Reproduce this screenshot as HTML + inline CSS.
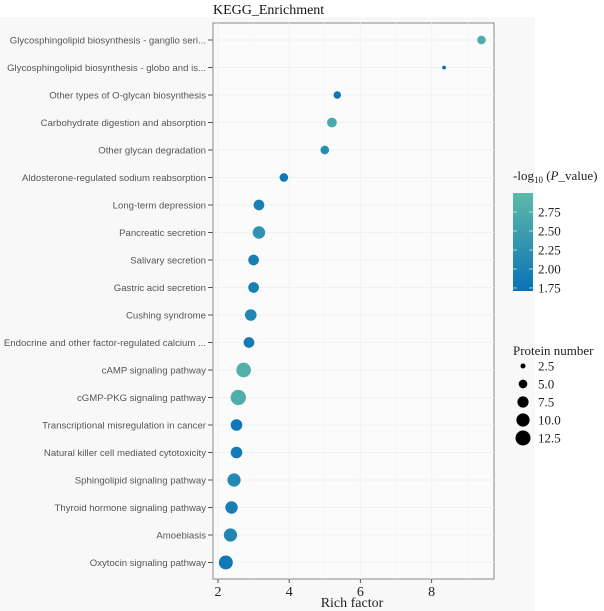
<!DOCTYPE html>
<html><head><meta charset="utf-8"><style>
html,body{margin:0;padding:0;background:#fff;}
svg{display:block;}
</style></head><body>
<svg id="chart" width="604" height="611" xmlns="http://www.w3.org/2000/svg">
<rect x="0" y="17" width="535" height="594" fill="#f8f8f8"/>
<text x="213" y="14" font-family="Liberation Serif, serif" font-size="14" fill="#111">KEGG_Enrichment</text>
<rect x="213" y="23" width="281" height="556" fill="#fbfbfb" stroke="#8a8a8a" stroke-width="1"/>
<g id="grid"></g><g id="yaxis"></g><g id="xaxis"></g><g id="points"></g>
<text x="352" y="607" text-anchor="middle" font-family="Liberation Serif, serif" font-size="14" fill="#222">Rich factor</text>
<defs><linearGradient id="cg" x1="0" y1="1" x2="0" y2="0"><stop offset="0" stop-color="#0b72b6"/><stop offset="1" stop-color="#5cbaa9"/></linearGradient></defs>
<text x="513" y="180" font-family="Liberation Serif, serif" font-size="13" fill="#222">-log<tspan font-size="9" dy="3">10</tspan><tspan dy="-3"> (</tspan><tspan font-style="italic">P</tspan>_value)</text>
<rect x="513" y="193" width="20" height="98" fill="url(#cg)"/>
<g id="cleg"></g>
<text x="513" y="355" font-family="Liberation Serif, serif" font-size="13" fill="#222">Protein number</text>
<g id="sleg"></g>
</svg>
<script>
const categories=["Glycosphingolipid biosynthesis - ganglio seri...","Glycosphingolipid biosynthesis - globo and is...","Other types of O-glycan biosynthesis","Carbohydrate digestion and absorption","Other glycan degradation","Aldosterone-regulated sodium reabsorption","Long-term depression","Pancreatic secretion","Salivary secretion","Gastric acid secretion","Cushing syndrome","Endocrine and other factor-regulated calcium ...","cAMP signaling pathway","cGMP-PKG signaling pathway","Transcriptional misregulation in cancer","Natural killer cell mediated cytotoxicity","Sphingolipid signaling pathway","Thyroid hormone signaling pathway","Amoebiasis","Oxytocin signaling pathway"];
const richFactor=[9.4,8.35,5.35,5.2,5.0,3.85,3.15,3.15,3.0,3.0,2.92,2.87,2.72,2.57,2.52,2.52,2.45,2.38,2.35,2.22];
const proteinNumber=[5,2,4,6,5,5,7,9,7,7,8,7,12,13,8,8,10,9,10,11];
const logP=[2.8,1.8,1.8,2.7,2.2,1.85,2.0,2.3,1.95,1.95,2.1,1.9,2.85,2.8,1.85,1.9,2.15,1.95,2.1,1.85];
const xTicks=[2,4,6,8];
const colorTicks=[1.75,2.0,2.25,2.5,2.75];
const sizeTicks=[2.5,5.0,7.5,10.0,12.5];
const NS="http://www.w3.org/2000/svg";
const X=v=>218+(v-2)*35.6;
const Y=i=>40+i*27.5;
const R=n=>Math.sqrt(Math.max(5*n-6.25,2.5));
const CY=v=>288-(v-1.75)*76;
function col(v){let t=Math.max(0,Math.min(1,(v-1.75)/1.25));const a=[11,114,182],b=[92,186,169];return `rgb(${a.map((c,k)=>Math.round(c+(b[k]-c)*t)).join(',')})`;}
function mk(tag,attrs,parent,txt){const e=document.createElementNS(NS,tag);for(const k in attrs)e.setAttribute(k,attrs[k]);if(txt!==undefined)e.textContent=txt;document.getElementById(parent).appendChild(e);return e;}
xTicks.forEach(t=>{
 let g=mk('line',{x1:X(t),x2:X(t),y1:23,y2:579,stroke:'#f1f1f1','stroke-width':1},'grid');
 
 
 let g2=mk('line',{x1:X(t+1),x2:X(t+1),y1:23,y2:579,stroke:'#f5f5f5','stroke-width':0.6},'grid');
 
 
 let tk=mk('line',{x1:X(t),x2:X(t),y1:579,y2:583,stroke:'#555'},'xaxis');
 
 
 let lb=mk('text',{x:X(t),y:596,'text-anchor':'middle','font-family':'Liberation Serif, serif','font-size':14,fill:'#222'},'xaxis',String(t));
 
 
});
categories.forEach((c,i)=>{
 let g=mk('line',{x1:213,x2:494,y1:Y(i),y2:Y(i),stroke:'#f1f1f1','stroke-width':1},'grid');
 
 
 let tk=mk('line',{x1:208,x2:213,y1:Y(i),y2:Y(i),stroke:'#555'},'yaxis');
 
 
 let lb=mk('text',{x:206,y:Y(i)+3.5,'text-anchor':'end','font-family':'Liberation Sans, sans-serif','font-size':9.6,fill:'#555'},'yaxis',c);
 
 
 let p=mk('circle',{cx:X(richFactor[i]),cy:Y(i),r:R(proteinNumber[i]),fill:col(logP[i])},'points');
 
 
});
colorTicks.forEach(t=>{
 let l=mk('line',{x1:513,x2:517,y1:CY(t),y2:CY(t),stroke:'#fff','stroke-opacity':0.6},'cleg');
 
 
 let l2=mk('line',{x1:529,x2:533,y1:CY(t),y2:CY(t),stroke:'#fff','stroke-opacity':0.6},'cleg');
 
 
 let lb=mk('text',{x:538,y:CY(t)+4.5,'font-family':'Liberation Serif, serif','font-size':13,fill:'#222'},'cleg',t.toFixed(2));
 
 
});
sizeTicks.forEach((t,k)=>{
 const y=366+k*18;
 let c=mk('circle',{cx:523,cy:y,r:R(t),fill:'#000'},'sleg');
 
 
 let lb=mk('text',{x:538,y:y+4.5,'font-family':'Liberation Serif, serif','font-size':13,fill:'#222'},'sleg',t.toFixed(1));
 
 
});
</script>
</body></html>
